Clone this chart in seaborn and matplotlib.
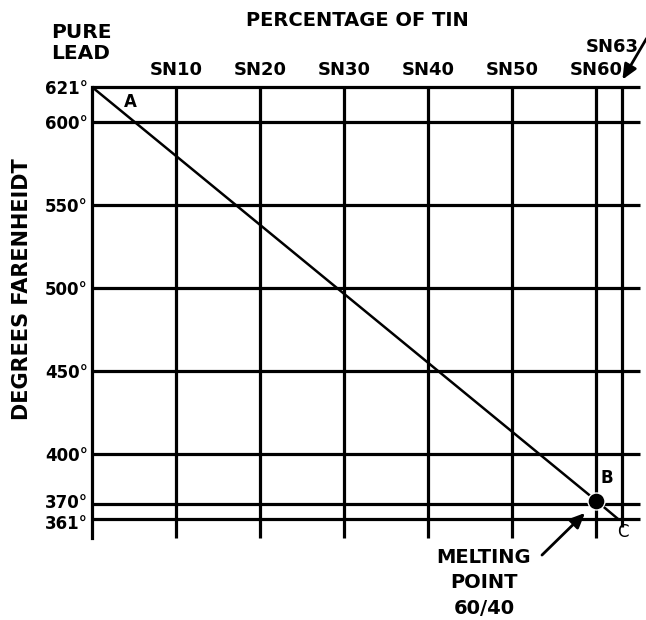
import matplotlib
matplotlib.use("Agg")
import matplotlib.pyplot as plt
import matplotlib.transforms as mtransforms
import seaborn as sns
import pandas as pd

# chart data
tin_pct = [10, 20, 30, 40, 50, 60, 63]
tin_labels = ["SN10", "SN20", "SN30", "SN40", "SN50", "SN60", "SN63"]
temp_ticks = [621, 600, 550, 500, 450, 400, 370, 361]
temp_labels = ["621°", "600°", "550°", "500°", "450°", "400°", "370°", "361°"]
curve_pct = [0, 60, 62.6]
curve_temp = [621, 372, 361]
melt_pct = [60]
melt_temp = [372]

sns.set_style("white")
plt.rcParams["font.family"] = ["DejaVu Sans"]
plt.rcParams["font.weight"] = "bold"
plt.rcParams["text.color"] = "black"
plt.rcParams["xtick.color"] = "black"
plt.rcParams["ytick.color"] = "black"

W, H = 646, 620
fig = plt.figure(figsize=(W / 100, H / 100), dpi=100)
ax = fig.add_axes([92 / W, 1 - 538 / H, (640 - 92) / W, (538 - 87) / H])

x_max = 65.2
y_min = 349.6
ax.set_xlim(0, x_max)
ax.set_ylim(y_min, temp_ticks[0])

grid_kw = dict(color="black", lw=2.3, clip_on=False)
ax.hlines(temp_ticks, 0, x_max, **grid_kw)
ax.vlines(tin_pct[:-1], y_min, temp_ticks[0], **grid_kw)
ax.vlines(tin_pct[-1], 356, temp_ticks[0], **grid_kw)

# diagonal line and melting point
df = pd.DataFrame({"pct": curve_pct, "temp": curve_temp})
sns.lineplot(data=df, x="pct", y="temp", color="black", lw=1.8, ax=ax)
sns.scatterplot(x=melt_pct, y=melt_temp, color="black", s=150, ax=ax, zorder=5)

for s in ["top", "right", "bottom"]:
    ax.spines[s].set_visible(False)
ax.spines["left"].set_linewidth(2.3)
ax.spines["left"].set_color("black")

ax.set_yticks(temp_ticks)
ax.set_yticklabels(temp_labels)
ax.set_xticks(tin_pct[:-1])
ax.set_xticklabels(tin_labels[:-1])
ax.tick_params(axis="y", length=0, pad=3, labelsize=12)
ax.tick_params(axis="x", length=0, pad=6, labelsize=13,
               bottom=False, labelbottom=False, top=False, labeltop=True)
ax.set_xlabel("")
ax.set_ylabel("")

# nudge the two crowded bottom labels apart
ylabs = ax.get_yticklabels()
ylabs[-2].set_transform(ylabs[-2].get_transform() +
                        mtransforms.ScaledTranslation(0, 3 / 100, fig.dpi_scale_trans))
ylabs[-1].set_transform(ylabs[-1].get_transform() +
                        mtransforms.ScaledTranslation(0, -3 / 100, fig.dpi_scale_trans))

# labels on the line
ax.text(4.6, 612, "A", fontsize=12, ha="center", va="center")
ax.text(61.3, 386, "B", fontsize=12, ha="center", va="center")
ax.text(63.2, 353, "C", fontsize=12, ha="center", va="center", fontweight="normal")

# outer texts
fig.text(357 / W, 1 - 20 / H, "PERCENTAGE OF TIN", fontsize=14, ha="center", va="center")
fig.text(81 / W, 1 - 43 / H, "PURE\nLEAD", fontsize=14.5, ha="center", va="center",
         linespacing=1.15)
fig.text(22 / W, 1 - 289 / H, "DEGREES FARENHEIDT", fontsize=15, rotation=90,
         ha="center", va="center")
fig.text(612 / W, 1 - 47 / H, tin_labels[-1], fontsize=13, ha="center", va="center")
fig.text(484 / W, 1 - 583 / H, "MELTING\nPOINT\n60/40", fontsize=14, ha="center",
         va="center", linespacing=1.45)

arrow = dict(arrowstyle="-|>,head_length=0.9,head_width=0.4", color="black", lw=2)
ax.annotate("", xy=(587, H - 511), xycoords="figure pixels",
            xytext=(540, H - 557), textcoords="figure pixels", arrowprops=arrow)
ax.annotate("", xy=(621, H - 82), xycoords="figure pixels",
            xytext=(648, H - 36), textcoords="figure pixels", arrowprops=arrow)

plt.savefig("out.png", dpi=100)
